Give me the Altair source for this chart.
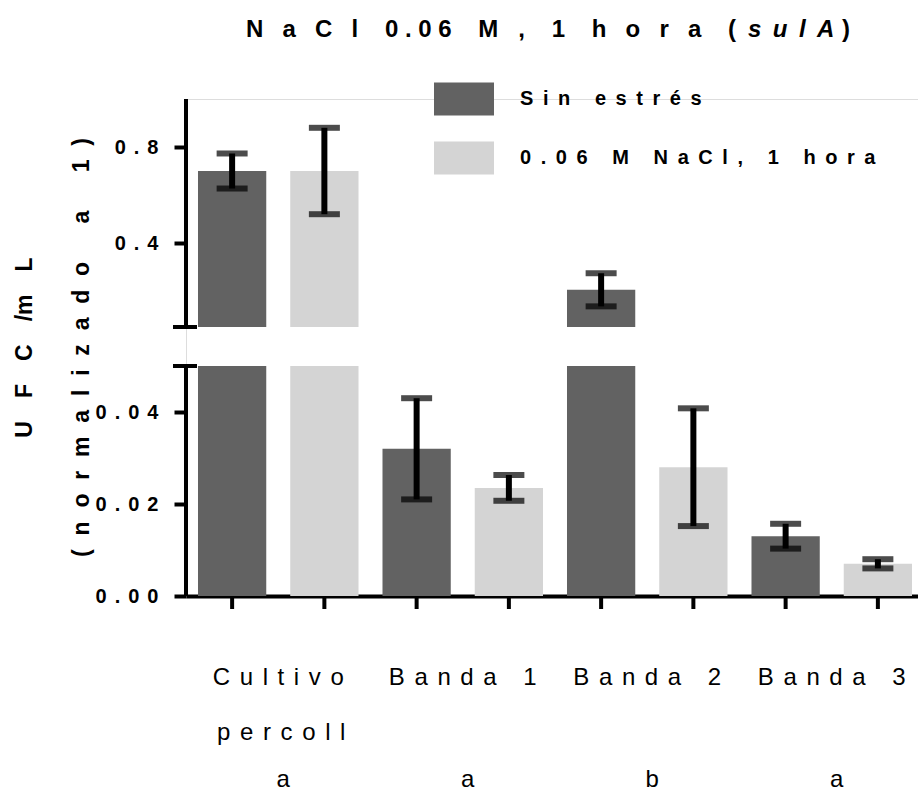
import altair as alt
import pandas as pd

# ---- data -------------------------------------------------------------
groups = ["Cultivo percoll", "Banda 1", "Banda 2", "Banda 3"]
conditions = ["Sin estrés", "0.06 M NaCl, 1 hora"]

sin_estres_mean = [0.70, 0.032, 0.205, 0.013]
sin_estres_sd = [0.073, 0.011, 0.069, 0.0027]
nacl_mean = [0.70, 0.0235, 0.028, 0.007]
nacl_sd = [0.18, 0.0028, 0.0128, 0.001]

label_line1 = ["Cultivo", "Banda 1", "Banda 2", "Banda 3"]
label_line2 = ["percoll", "", "", ""]
letters = ["a", "a", "b", "a"]

y_ticks = [0.0, 0.02, 0.04, 0.4, 0.8]

# broken y axis: lower part 0-0.05, upper part 0.05-1.0
BREAK_LO = 0.05
BREAK_HI = 0.050001
Y_TOP = 1.0

DARK = "#626262"
LIGHT = "#d4d4d4"
FONT = "Liberation Sans"
NB = "\u00a0"      # non-breaking space (not collapsed in SVG)
TH = "\u2009"      # thin space


def spaced(text, gap, word_gap):
    """Wide letter spacing, built from non-collapsing spaces."""
    return word_gap.join(gap.join(w) for w in text.split(" "))


# ---- tables -----------------------------------------------------------
rows = []
for gi, g in enumerate(groups):
    for cond, means, sds in ((conditions[0], sin_estres_mean, sin_estres_sd),
                             (conditions[1], nacl_mean, nacl_sd)):
        rows.append({"grupo": g, "condicion": cond,
                     "media": means[gi], "sd": sds[gi]})
bars = pd.DataFrame(rows)
bars["inf"] = bars["media"] - bars["sd"]
bars["sup"] = bars["media"] + bars["sd"]

# each bar is split into the part below and above the axis break
segs = []
for r in rows:
    segs.append({"grupo": r["grupo"], "condicion": r["condicion"],
                 "y0": 0.0, "y1": min(r["media"], BREAK_LO)})
    if r["media"] > BREAK_HI:
        segs.append({"grupo": r["grupo"], "condicion": r["condicion"],
                     "y0": BREAK_HI, "y1": r["media"]})
segs = pd.DataFrame(segs)

caps = pd.concat([
    bars[["grupo", "condicion", "inf"]].rename(columns={"inf": "v"}),
    bars[["grupo", "condicion", "sup"]].rename(columns={"sup": "v"}),
])

axis_parts = pd.DataFrame({"ini": [0.0, BREAK_HI], "fin": [BREAK_LO, Y_TOP]})
breaks = pd.DataFrame({"corte": [BREAK_LO, BREAK_HI]})

labels = pd.DataFrame({
    "grupo": groups,
    "l1": [spaced(t, TH * 2, NB * 4) for t in label_line1],
    "l2": [spaced(t, TH * 2, NB * 4) for t in label_line2],
    "letra": letters,
})

# ---- scales / shared encodings ---------------------------------------
x_scale = alt.Scale(domain=groups, range=[0, 738], paddingInner=0, paddingOuter=0)
xo_scale = alt.Scale(domain=conditions, paddingInner=0.26, paddingOuter=0.13)
y_scale = alt.Scale(domain=[0, BREAK_LO, BREAK_HI, Y_TOP],
                    range=[497, 267, 228, 0], nice=False, zero=False)
color_scale = alt.Scale(domain=conditions, range=[DARK, LIGHT])

x_axis = alt.Axis(labels=False, ticks=False, title=None, domain=True,
                  domainColor="black", domainWidth=4, grid=False)
X = alt.X("grupo:N", scale=x_scale, axis=x_axis, sort=groups)
XO = alt.XOffset("condicion:N", scale=xo_scale, sort=conditions)

label_expr = ("join(split(datum.value < 0.1 ? format(datum.value, '.2f') : "
              "format(datum.value, '.1f'), ''), '" + TH * 2 + "')")
y_title_1 = "U" + TH * 5 + "F" + TH * 5 + "C" + TH * 5 + "/m" + TH * 5 + "L"
y_title_2 = spaced("(normalizado a 1)", TH * 3, NB * 6)
y_axis = alt.Axis(
    values=y_ticks, domain=False, grid=False,
    tickSize=12, tickWidth=4, tickColor="black",
    labelFont=FONT, labelFontSize=20, labelFontWeight="bold",
    labelColor="black", labelPadding=16, labelExpr=label_expr,
    title=[y_title_1, y_title_2],
    titleFont=FONT, titleFontSize=23, titleFontWeight="bold",
    titleColor="black", titleAngle=270, titleX=-155, titleY=248,
    titleAlign="center", titleBaseline="alphabetic", titleLineHeight=57,
)


def Y(field):
    return alt.Y(field, scale=y_scale, axis=y_axis)


# ---- layers -----------------------------------------------------------
bar_layer = alt.Chart(segs).mark_bar().encode(
    x=X, xOffset=XO, y=Y("y0:Q"), y2="y1:Q",
    color=alt.Color(
        "condicion:N", scale=color_scale, sort=conditions,
        legend=alt.Legend(
            orient="none", legendX=248, legendY=-30, title=None,
            direction="vertical", padding=0,
            symbolType="M-1,-0.55H1V0.55H-1Z", symbolSize=3600,
            symbolStrokeWidth=0, symbolOpacity=1,
            labelFont=FONT, labelFontSize=20, labelFontWeight="bold",
            labelColor="black", labelOffset=26, rowPadding=12, labelLimit=0,
            labelExpr="join(split(datum.label, ''), '" + NB + TH + "')",
        ),
    ),
)

err_layer = alt.Chart(bars).mark_rule(color="black", strokeWidth=6).encode(
    x=X, xOffset=XO, y=Y("inf:Q"), y2="sup:Q")

cap_layer = alt.Chart(caps).mark_tick(color="black", thickness=6, size=31).encode(
    x=X, xOffset=XO, y=Y("v:Q"))

xtick_layer = alt.Chart(bars).mark_rule(
    color="black", strokeWidth=4, yOffset=1, y2Offset=13
).encode(x=X, xOffset=XO, y=alt.datum(0), y2=alt.datum(0))

yline_layer = alt.Chart(axis_parts).mark_rule(color="black", strokeWidth=4).encode(
    x=alt.value(0), y=Y("ini:Q"), y2="fin:Q")

break_layer = alt.Chart(breaks).mark_rule(color="black", strokeWidth=4).encode(
    x=alt.value(-13), x2=alt.value(11), y=Y("corte:Q"))

line1_layer = alt.Chart(labels).mark_text(
    font=FONT, fontSize=24, color="black", baseline="middle", dy=82, dx=0
).encode(x=X, y=alt.datum(0), text="l1:N")

line2_layer = alt.Chart(labels).mark_text(
    font=FONT, fontSize=24, color="black", baseline="middle", dy=137, dx=3
).encode(x=X, y=alt.datum(0), text="l2:N")

letter_layer = alt.Chart(labels).mark_text(
    font=FONT, fontSize=24, color="black", baseline="middle", dy=184, dx=5
).encode(x=X, y=alt.datum(0), text="letra:N")

# title: "NaCl 0.06 M, 1 hora (sulA)" with the gene name in italics
W = NB * 4
title_a = (spaced("NaCl", TH * 4, W) + W + spaced("0.06", NB, W) + W + "M"
           + NB * 3 + "," + W + "1" + W + spaced("hora", TH * 4, W) + W + "(")
title_b = spaced("sulA", NB + TH, W)
title_c = ")"
title_df = pd.DataFrame({"a": [title_a], "b": [title_b], "c": [title_c]})

t_a = alt.Chart(title_df).mark_text(
    font=FONT, fontSize=24, fontWeight="bold", color="black",
    align="right", baseline="middle"
).encode(x=alt.value(550), y=alt.value(-69), text="a:N")
t_b = alt.Chart(title_df).mark_text(
    font=FONT, fontSize=24, fontWeight="bold", fontStyle="italic", color="black",
    align="left", baseline="middle"
).encode(x=alt.value(562), y=alt.value(-69), text="b:N")
t_c = alt.Chart(title_df).mark_text(
    font=FONT, fontSize=24, fontWeight="bold", color="black",
    align="right", baseline="middle"
).encode(x=alt.value(664), y=alt.value(-69), text="c:N")

chart = alt.layer(
    bar_layer, err_layer, cap_layer, xtick_layer, yline_layer, break_layer,
    line1_layer, line2_layer, letter_layer, t_a, t_b, t_c,
).properties(
    width=732, height=497,
    autosize=alt.AutoSizeParams(type="none"),
    padding={"left": 186, "top": 99, "right": 0, "bottom": 196},
).configure_view(stroke=None).configure(background="white")

chart.save("out.html", embed_options={"renderer": "svg", "actions": False})
